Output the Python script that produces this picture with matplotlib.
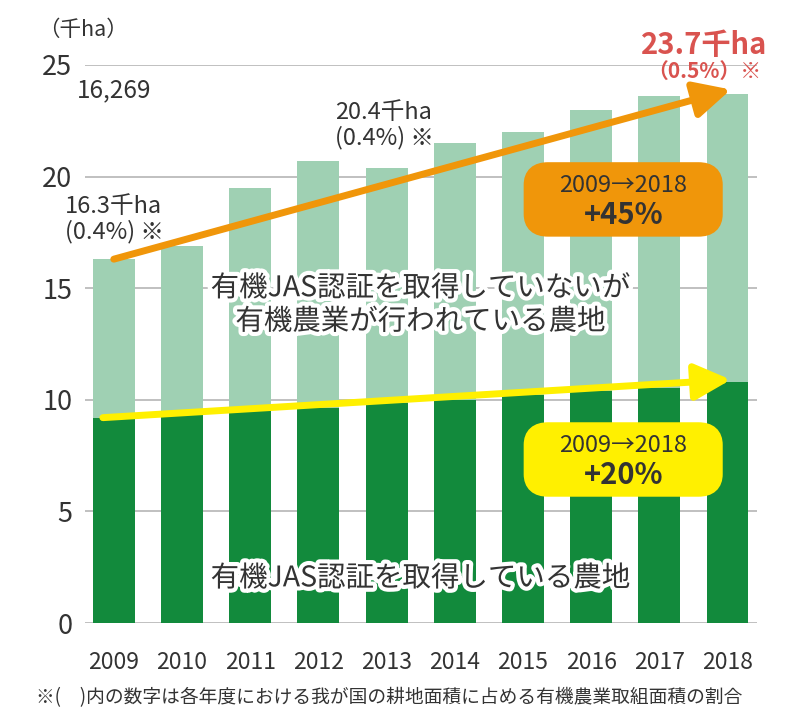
import matplotlib
matplotlib.use("Agg")
import matplotlib.pyplot as plt
import matplotlib.patheffects as pe
from matplotlib.patches import FancyBboxPatch

plt.rcParams['font.family'] = ['Noto Sans CJK JP', 'DejaVu Sans']

years = ['2009', '2010', '2011', '2012', '2013', '2014', '2015', '2016', '2017', '2018']
certified = [9.2, 9.3, 9.5, 9.65, 9.85, 10.0, 10.2, 10.4, 10.55, 10.8]
total = [16.3, 16.9, 19.5, 20.7, 20.4, 21.5, 22.0, 23.0, 23.6, 23.7]
uncertified = [t - c for t, c in zip(total, certified)]

dark = '#128a3c'
light = '#9fd0b3'
orange = '#f0960a'
yellow = '#fff000'
red = '#d9534f'
txt = '#333333'
grid = '#b5b5b5'

fig = plt.figure(figsize=(8, 7.18), dpi=100)
ax = fig.add_axes([0.106, 0.1323, 0.84, 0.7772])

x = list(range(len(years)))
ax.bar(x, certified, width=0.615, color=dark, zorder=2)
ax.bar(x, uncertified, width=0.615, bottom=certified, color=light, zorder=2)

ax.set_xlim(-0.425, 9.43)
ax.set_ylim(0, 25)
ax.set_yticks([0, 5, 10, 15, 20, 25])
ax.set_xticks(x)
ax.set_xticklabels(years)
ax.yaxis.grid(True, color=grid, lw=1.2, zorder=0)
ax.set_axisbelow(True)
for s in ax.spines.values():
    s.set_visible(False)
ax.tick_params(axis='both', length=0, colors=txt)
ax.tick_params(axis='y', labelsize=19.5, pad=9)
ax.tick_params(axis='x', labelsize=16.5, pad=20)

# trend arrows
ax.annotate('', xy=(9.05, total[-1] + 0.2), xytext=(0, total[0]),
            arrowprops=dict(arrowstyle='-|>,head_length=1.3,head_width=0.65', lw=5,
                            color=orange, shrinkA=0, shrinkB=0, mutation_scale=17),
            annotation_clip=False, zorder=4)
ax.annotate('', xy=(9.05, certified[-1] + 0.1), xytext=(-0.16, certified[0]),
            arrowprops=dict(arrowstyle='-|>,head_length=1.3,head_width=0.65', lw=5,
                            color=yellow, shrinkA=0, shrinkB=0, mutation_scale=17),
            annotation_clip=False, zorder=4)

# boxes
for y0, col, pct in [(0.670, orange, '+45%'), (0.3078, yellow, '+20%')]:
    box = FancyBboxPatch((0.665, y0 + 0.012), 0.228, 0.1045 - 0.024,
                         boxstyle='round,pad=0.0,rounding_size=0.02',
                         transform=fig.transFigure, fc=col, ec=col, lw=12, zorder=5)
    fig.add_artist(box)
    fig.text(0.779, y0 + 0.072, '2009→2018', ha='center', va='center',
             fontsize=17, color=txt, zorder=6)
    fig.text(0.779, y0 + 0.030, pct, ha='center', va='center',
             fontsize=21, fontweight='bold', color=txt, zorder=6)

outline = [pe.withStroke(linewidth=6, foreground='white')]
ax.text(4.5, 14.25, '有機JAS認証を取得していないが\n有機農業が行われている農地',
        ha='center', va='center', fontsize=20.5, color=txt, linespacing=1.15,
        path_effects=outline, zorder=7)
ax.text(4.5, 2.0, '有機JAS認証を取得している農地', ha='center', va='center',
        fontsize=20.5, color=txt, path_effects=outline, zorder=7)

# value labels
fig.text(0.047, 0.958, '（千ha）', ha='left', va='center', fontsize=15.5, color=txt)
fig.text(0.096, 0.874, '16,269', ha='left', va='center', fontsize=17.5, color=txt)
fig.text(0.081, 0.695, '16.3千ha\n(0.4%) ※', ha='left', va='center', fontsize=17,
         color=txt, linespacing=1.1)
fig.text(0.419, 0.826, '20.4千ha\n(0.4%) ※', ha='left', va='center', fontsize=17,
         color=txt, linespacing=1.1)
fig.text(0.880, 0.937, '23.7千ha', ha='center', va='center', fontsize=21,
         fontweight='bold', color=red)
fig.text(0.880, 0.900, '（0.5%）※', ha='center', va='center', fontsize=15,
         fontweight='bold', color=red)

fig.text(0.045, 0.029, '※(　)内の数字は各年度における我が国の耕地面積に占める有機農業取組面積の割合',
         ha='left', va='center', fontsize=13.5, color=txt)

fig.savefig('out.png', dpi=100)
